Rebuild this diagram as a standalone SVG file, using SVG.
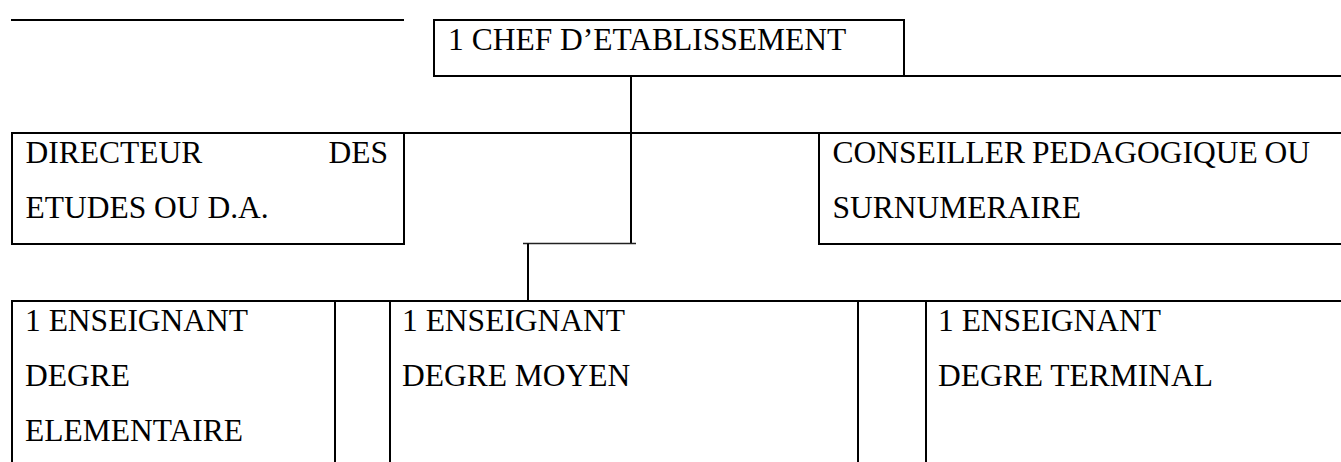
<svg xmlns="http://www.w3.org/2000/svg" width="1341" height="462" viewBox="0 0 1341 462">
  <style>
    .box { fill: none; stroke: #000; stroke-width: 2; }
    .ln { fill: none; stroke: #000; stroke-width: 2; }
    .thin { fill: none; stroke: #222; stroke-width: 1.5; }
    .t { font-family: 'Liberation Serif', 'Times New Roman', Times, serif; font-size: 31.5px; fill: #000; }
  </style>
  <rect width="1341" height="462" fill="#fff"/>
  <g id="rules">
    <line class="ln" x1="11" y1="20" x2="404" y2="20"/>
    <line class="ln" x1="904" y1="76" x2="1341" y2="76"/>
    <line class="ln" x1="12" y1="133" x2="1341" y2="133"/>
    <line class="ln" x1="12" y1="301" x2="1341" y2="301"/>
  </g>
  <g id="connectors">
    <line class="ln" x1="631" y1="76" x2="631" y2="244"/>
    <line class="thin" x1="523" y1="243.5" x2="636" y2="243.5"/>
    <line class="ln" x1="528" y1="243.5" x2="528" y2="301"/>
  </g>
  <g id="chef">
    <rect class="box" x="434" y="20" width="470" height="56"/>
    <text class="t" x="448" y="49.5">1 CHEF D’ETABLISSEMENT</text>
  </g>
  <g id="directeur">
    <rect class="box" x="12" y="133" width="392" height="111"/>
    <text class="t" x="25.5" y="163">DIRECTEUR</text>
    <text class="t" x="388" y="163" text-anchor="end">DES</text>
    <text class="t" x="25.5" y="218">ETUDES OU D.A.</text>
  </g>
  <g id="conseiller">
    <rect class="box" x="819" y="133" width="540" height="111"/>
    <text class="t" x="832.5" y="163">CONSEILLER</text>
    <text class="t" x="1032" y="163">PEDAGOGIQUE</text>
    <text class="t" x="1310" y="163" text-anchor="end">OU</text>
    <text class="t" x="832.5" y="218">SURNUMERAIRE</text>
  </g>
  <g id="enseignant-elementaire">
    <rect class="box" x="12" y="301" width="323" height="180"/>
    <text class="t" x="25" y="331">1 ENSEIGNANT</text>
    <text class="t" x="25" y="386">DEGRE</text>
    <text class="t" x="25" y="440.5">ELEMENTAIRE</text>
  </g>
  <g id="enseignant-moyen">
    <rect class="box" x="390" y="301" width="468" height="180"/>
    <text class="t" x="402" y="331">1 ENSEIGNANT</text>
    <text class="t" x="402" y="386">DEGRE MOYEN</text>
  </g>
  <g id="enseignant-terminal">
    <rect class="box" x="926" y="301" width="430" height="180"/>
    <text class="t" x="938" y="331">1 ENSEIGNANT</text>
    <text class="t" x="938" y="386">DEGRE TERMINAL</text>
  </g>
</svg>
